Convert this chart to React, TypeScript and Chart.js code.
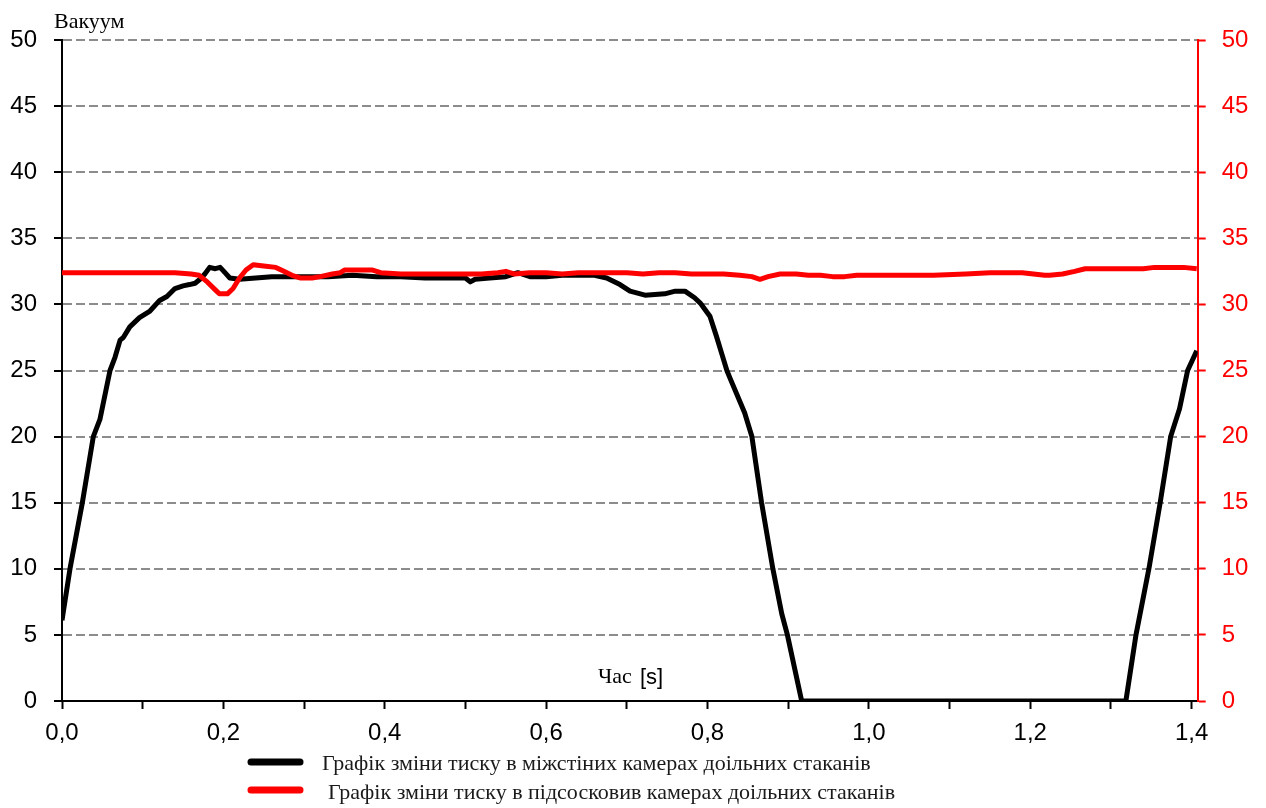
import React, { useEffect, useRef } from 'react';
import { Chart, registerables } from 'chart.js';

Chart.register(...registerables);

// ---- Data ----
const blackTime = [
  0, 0.0099, 0.0252, 0.0388, 0.047, 0.0595, 0.0657, 0.072, 0.076, 0.084, 0.096, 0.109,
  0.121, 0.130, 0.140, 0.150, 0.158, 0.165, 0.171, 0.177, 0.183, 0.190, 0.196, 0.202,
  0.208, 0.220, 0.240, 0.260, 0.280, 0.300, 0.330, 0.360, 0.390, 0.420, 0.450, 0.480,
  0.500, 0.506, 0.512, 0.530, 0.550, 0.565, 0.580, 0.600, 0.620, 0.640, 0.660, 0.675,
  0.6915, 0.704, 0.7225, 0.747, 0.760, 0.772, 0.784, 0.791, 0.803, 0.811, 0.818, 0.824,
  0.828, 0.846, 0.855, 0.867, 0.881, 0.892, 0.899, 0.9167, 1.3185, 1.331, 1.347, 1.361,
  1.374, 1.385, 1.395, 1.4063,
];
const blackVacuum = [
  6.1, 10.0, 15.0, 20.0, 21.3, 25.0, 26.0, 27.3, 27.5, 28.3, 29.0, 29.5,
  30.3, 30.6, 31.2, 31.4, 31.5, 31.6, 31.9, 32.3, 32.8, 32.7, 32.8, 32.4,
  32.0, 31.9, 32.0, 32.1, 32.1, 32.1, 32.1, 32.2, 32.1, 32.1, 32.0, 32.0,
  32.0, 31.7, 31.9, 32.0, 32.1, 32.4, 32.1, 32.1, 32.2, 32.2, 32.2, 32.0,
  31.5, 31.0, 30.7, 30.8, 31.0, 31.0, 30.5, 30.1, 29.1, 27.6, 26.2, 25.0,
  24.4, 21.8, 20.0, 15.0, 10.0, 6.6, 5.0, 0, 0, 5.0, 10.0, 15.0,
  20.0, 22.1, 25.0, 26.5,
];

const redTime = [
  0, 0.05, 0.10, 0.14, 0.16, 0.17, 0.18, 0.19, 0.195, 0.205, 0.212, 0.22,
  0.228, 0.237, 0.25, 0.265, 0.275, 0.285, 0.295, 0.31, 0.32, 0.335, 0.345, 0.35,
  0.37, 0.385, 0.395, 0.42, 0.45, 0.48, 0.50, 0.52, 0.54, 0.55, 0.56, 0.58,
  0.60, 0.62, 0.64, 0.66, 0.68, 0.70, 0.72, 0.74, 0.76, 0.78, 0.80, 0.82,
  0.84, 0.855, 0.865, 0.875, 0.89, 0.91, 0.925, 0.94, 0.955, 0.97, 0.985, 1.00,
  1.04, 1.08, 1.12, 1.15, 1.19, 1.218, 1.224, 1.24, 1.255, 1.268, 1.30, 1.34,
  1.354, 1.37, 1.39, 1.4063,
];
const redVacuum = [
  32.4, 32.4, 32.4, 32.4, 32.3, 32.2, 31.7, 31.1, 30.8, 30.8, 31.2, 32.0,
  32.6, 33.0, 32.9, 32.8, 32.5, 32.2, 32.0, 32.0, 32.1, 32.3, 32.4, 32.6,
  32.6, 32.6, 32.4, 32.3, 32.3, 32.3, 32.3, 32.3, 32.4, 32.5, 32.3, 32.4,
  32.4, 32.3, 32.4, 32.4, 32.4, 32.4, 32.3, 32.4, 32.4, 32.3, 32.3, 32.3,
  32.2, 32.1, 31.9, 32.1, 32.3, 32.3, 32.2, 32.2, 32.1, 32.1, 32.2, 32.2,
  32.2, 32.2, 32.3, 32.4, 32.4, 32.2, 32.2, 32.3, 32.5, 32.7, 32.7, 32.7,
  32.8, 32.8, 32.8, 32.7,
];

const xMin = 0;
const xMax = 1.4075;
const xStep = 0.1;
const xLabelEvery = 0.2;
const yMin = 0;
const yMax = 50;
const yStep = 5;

const titleText = 'Вакуум';
const xAxisTitle = 'Час';
const xAxisUnit = '[s]';
const legendLabels = [
  'Графік зміни тиску в міжстіних камерах доільних стаканів',
  'Графік зміни тиску в підсосковив камерах доільних стаканів',
];
const seriesColors = ['#000000', '#ff0000'];

const SERIF = '"Liberation Serif", "Times New Roman", serif';
const SANS = '"Liberation Sans", Arial, sans-serif';

const decorations = {
  id: 'decorations',
  afterDraw(chart: any) {
    const ctx = chart.ctx as CanvasRenderingContext2D;
    ctx.save();
    ctx.textBaseline = 'alphabetic';
    ctx.textAlign = 'left';
    ctx.fillStyle = '#000';
    ctx.font = `22px ${SERIF}`;
    ctx.fillText(titleText, 54, 28);
    ctx.fillText(xAxisTitle, 598, 683);
    ctx.font = `22px ${SANS}`;
    ctx.fillText(xAxisUnit, 640, 684);

    // legend
    const rows = [
      { y: 762, tx: 322, ty: 770 },
      { y: 790, tx: 328, ty: 799 },
    ];
    rows.forEach((r, i) => {
      ctx.strokeStyle = seriesColors[i];
      ctx.lineWidth = 7;
      ctx.lineCap = 'round';
      ctx.beginPath();
      ctx.moveTo(251, r.y);
      ctx.lineTo(300, r.y);
      ctx.stroke();
      ctx.fillStyle = '#1a1a1a';
      ctx.font = `22px ${SERIF}`;
      ctx.fillText(legendLabels[i], r.tx, r.ty);
    });
    ctx.restore();
  },
};

export default function App() {
  const ref = useRef<HTMLCanvasElement | null>(null);

  useEffect(() => {
    if (!ref.current) return;
    const blackData = blackTime.map((t, i) => ({ x: t, y: blackVacuum[i] }));
    const redData = redTime.map((t, i) => ({ x: t, y: redVacuum[i] }));

    const chart = new Chart(ref.current, {
      type: 'line',
      data: {
        datasets: [
          {
            label: legendLabels[0],
            data: blackData,
            borderColor: seriesColors[0],
            borderWidth: 5,
            borderJoinStyle: 'round',
            pointRadius: 0,
            tension: 0,
            yAxisID: 'y',
            order: 2,
          },
          {
            label: legendLabels[1],
            data: redData,
            borderColor: seriesColors[1],
            borderWidth: 5,
            borderJoinStyle: 'round',
            pointRadius: 0,
            tension: 0,
            yAxisID: 'y2',
            order: 1,
          },
        ],
      },
      options: {
        animation: false,
        responsive: false,
        layout: { padding: { top: 40, left: 0, right: 0, bottom: 0 } },
        plugins: {
          legend: { display: false },
          tooltip: { enabled: false },
        },
        scales: {
          x: {
            type: 'linear',
            min: xMin,
            max: xMax,
            afterFit: (s: any) => { s.height = 107; },
            border: { display: true, color: '#000', width: 2 },
            grid: {
              drawOnChartArea: false,
              drawTicks: true,
              tickLength: 8,
              tickColor: '#000',
              tickWidth: 2,
            },
            ticks: {
              stepSize: xStep,
              includeBounds: false,
              autoSkip: false,
              maxRotation: 0,
              padding: 10,
              color: '#000',
              font: { family: SANS, size: 24 },
              callback: (v: any) => {
                const n = Number(v);
                const k = n / xLabelEvery;
                if (Math.abs(k - Math.round(k)) < 1e-6) return n.toFixed(1).replace('.', ',');
                return '';
              },
            },
          },
          y: {
            type: 'linear',
            position: 'left',
            min: yMin,
            max: yMax,
            afterFit: (s: any) => { s.width = 62; },
            border: { display: true, color: '#000', width: 2, dash: [9, 4] },
            grid: {
              color: '#8c8c8c',
              lineWidth: 2,
              drawTicks: true,
              tickLength: 8,
              tickColor: '#000',
              tickWidth: 2,
              tickBorderDash: [],
            },
            ticks: {
              stepSize: yStep,
              padding: 17,
              color: '#000',
              font: { family: SANS, size: 24 },
            },
          },
          y2: {
            type: 'linear',
            position: 'right',
            min: yMin,
            max: yMax,
            afterFit: (s: any) => { s.width = 68.3; },
            border: { display: true, color: '#ff0000', width: 2 },
            grid: {
              drawOnChartArea: false,
              drawTicks: true,
              tickLength: 8,
              tickColor: '#ff0000',
              tickWidth: 2,
            },
            ticks: {
              stepSize: yStep,
              padding: 16,
              color: '#ff0000',
              font: { family: SANS, size: 24 },
            },
          },
        },
      },
      plugins: [decorations],
    });
    return () => chart.destroy();
  }, []);

  return (
    <div style={{ position: 'absolute', left: 0, top: 0, width: 1266, height: 808, background: '#fff' }}>
      <canvas ref={ref} width={1266} height={808} style={{ display: 'block' }} />
    </div>
  );
}
